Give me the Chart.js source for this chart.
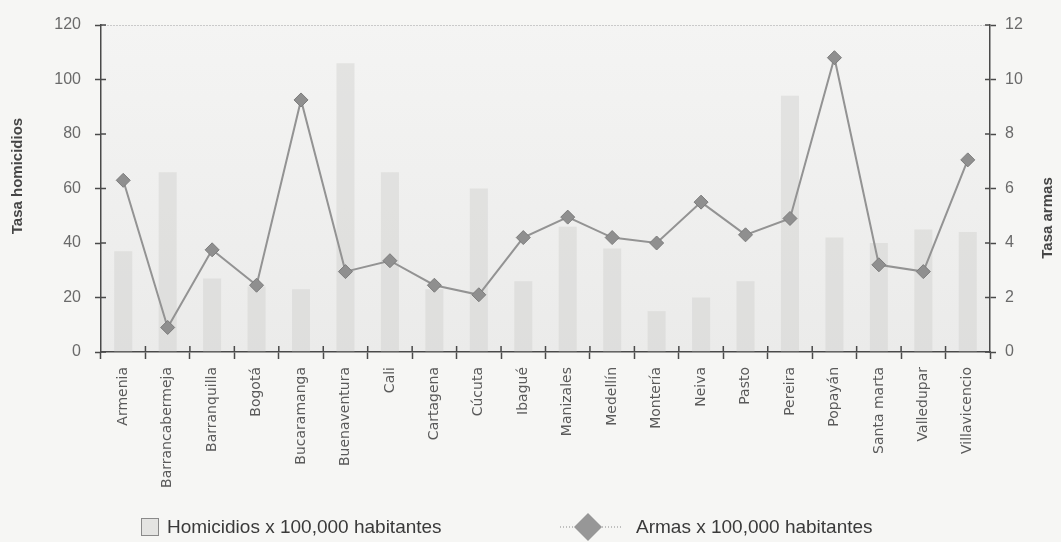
<!DOCTYPE html>
<html>
<head>
<meta charset="utf-8">
<script src="https://cdn.jsdelivr.net/npm/chart.js@4"></script>
<style>
  html, body { margin: 0; padding: 0; background: #f6f6f4; }
  #wrap { width: 1061px; height: 542px; position: relative; }
</style>
</head>
<body>
<div id="wrap"><canvas id="armasChart"></canvas></div>
<script>
const ciudades = ['Armenia', 'Barrancabermeja', 'Barranquilla', 'Bogotá', 'Bucaramanga', 'Buenaventura',
    'Cali', 'Cartagena', 'Cúcuta', 'Ibagué', 'Manizales', 'Medellín', 'Montería', 'Neiva',
    'Pasto', 'Pereira', 'Popayán', 'Santa marta', 'Valledupar', 'Villavicencio'];
const homicidios = [37, 66, 27, 24, 23, 106, 66, 23, 60, 26, 46, 38, 15, 20, 26, 94, 42, 40, 45, 44];
const armas = [6.3, 0.9, 3.75, 2.45, 9.25, 2.95, 3.35, 2.45, 2.1, 4.2, 4.95, 4.2, 4.0, 5.5, 4.3, 4.9, 10.8, 3.2, 2.95, 7.05];
const ticksHomicidios = [0, 20, 40, 60, 80, 100, 120];
const ticksArmas = [0, 2, 4, 6, 8, 10, 12];
const tituloIzq = 'Tasa homicidios';
const tituloDer = 'Tasa armas';

const axisColor = '#4a4a4a';

// plot background + ticks that cross the axis lines
const plotDecor = {
    id: 'plotDecor',
    beforeDraw(chart) {
        const { ctx, chartArea: a } = chart;
        ctx.save();
        const g = ctx.createLinearGradient(0, a.top, 0, a.bottom);
        g.addColorStop(0, '#f4f4f3');
        g.addColorStop(1, '#ebebea');
        ctx.fillStyle = g;
        ctx.fillRect(a.left, a.top, a.right - a.left, a.bottom - a.top);
        ctx.restore();
    },
    afterDraw(chart) {
        const { ctx, chartArea: a, scales } = chart;
        ctx.save();
        ctx.strokeStyle = axisColor;
        ctx.lineWidth = 1.5;
        ctx.beginPath();
        scales.y.ticks.forEach(t => {
            const py = scales.y.getPixelForValue(t.value);
            ctx.moveTo(a.left, py); ctx.lineTo(a.left + 5, py);
        });
        scales.y2.ticks.forEach(t => {
            const py = scales.y2.getPixelForValue(t.value);
            ctx.moveTo(a.right - 5, py); ctx.lineTo(a.right, py);
        });
        for (let i = 1; i < ciudades.length; i++) {
            const px = (scales.x.getPixelForTick(i - 1) + scales.x.getPixelForTick(i)) / 2;
            ctx.moveTo(px, a.bottom); ctx.lineTo(px, a.bottom - 6);
        }
        ctx.stroke();

        // axis titles, both reading bottom to top
        ctx.font = 'bold 15px "Liberation Sans", Arial, sans-serif';
        ctx.fillStyle = '#454545';
        ctx.textAlign = 'center';
        ctx.textBaseline = 'middle';
        ctx.translate(18, 176);
        ctx.rotate(-Math.PI / 2);
        ctx.fillText(tituloIzq, 0, 0);
        ctx.setTransform(1, 0, 0, 1, 0, 0);
        ctx.translate(1048, 218);
        ctx.rotate(-Math.PI / 2);
        ctx.fillText(tituloDer, 0, 0);
        ctx.restore();
    }
};

// legend drawn by hand: box for bars, dotted line + diamond for the line
const customLegend = {
    id: 'customLegend',
    afterDraw(chart) {
        const ctx = chart.ctx;
        const ds = chart.data.datasets;
        ctx.save();
        ctx.font = '19px "Liberation Sans", Arial, sans-serif';
        ctx.textBaseline = 'middle';

        ctx.fillStyle = '#e4e4e2';
        ctx.strokeStyle = '#8a8a8a';
        ctx.lineWidth = 1;
        ctx.fillRect(141.5, 518.5, 17, 17);
        ctx.strokeRect(141.5, 518.5, 17, 17);
        ctx.fillStyle = '#3a3a3a';
        ctx.fillText(ds[0].label, 167, 528);

        ctx.strokeStyle = '#8a8a8a';
        ctx.setLineDash([1, 2]);
        ctx.beginPath();
        ctx.moveTo(560, 527); ctx.lineTo(622, 527);
        ctx.stroke();
        ctx.setLineDash([]);
        ctx.fillStyle = '#979797';
        ctx.beginPath();
        ctx.moveTo(588, 513); ctx.lineTo(602, 527); ctx.lineTo(588, 541); ctx.lineTo(574, 527);
        ctx.closePath();
        ctx.fill();
        ctx.fillStyle = '#3a3a3a';
        ctx.fillText(ds[1].label, 636, 528);
        ctx.restore();
    }
};

new Chart(document.getElementById('armasChart'), {
    data: {
        labels: ciudades,
        datasets: [
            {
                type: 'bar',
                label: 'Homicidios x 100,000 habitantes',
                data: homicidios,
                yAxisID: 'y',
                backgroundColor: 'rgba(205, 205, 203, 0.42)',
                borderWidth: 0,
                barPercentage: 0.45,
                categoryPercentage: 0.9,
                order: 2
            },
            {
                type: 'line',
                label: 'Armas x 100,000 habitantes',
                data: armas,
                yAxisID: 'y2',
                borderColor: '#939393',
                borderWidth: 2,
                pointStyle: 'rectRot',
                pointRadius: 7,
                pointBackgroundColor: '#8f8f8f',
                pointBorderColor: '#7c7c7c',
                pointBorderWidth: 1,
                tension: 0,
                order: 1
            }
        ]
    },
    options: {
        responsive: true,
        maintainAspectRatio: false,
        animation: false,
        layout: { padding: { top: 25, left: 0, right: 0, bottom: 0 } },
        plugins: {
            legend: { display: false },
            tooltip: { enabled: false }
        },
        scales: {
            x: {
                offset: true,
                grid: { offset: true, display: true, drawOnChartArea: false, color: 'transparent',
                        tickColor: axisColor, tickLength: 7, tickWidth: 1.5 },
                border: { color: axisColor, width: 1.5 },
                ticks: {
                    minRotation: 90, maxRotation: 90, autoSkip: false, padding: 8,
                    color: '#5a5a5a',
                    font: { family: '"DejaVu Sans", sans-serif', size: 14 }
                },
                afterFit: s => { s.height = 190; }
            },
            y: {
                position: 'left',
                min: 0, max: 120,
                afterBuildTicks: s => { s.ticks = ticksHomicidios.map(v => ({ value: v })); },
                grid: {
                    color: c => c.tick && c.tick.value === 120 ? '#a0a0a0' : 'transparent',
                    tickColor: axisColor, tickLength: 6, tickWidth: 1.5
                },
                border: { color: axisColor, width: 1.5, dash: [1, 2] },
                ticks: {
                    padding: 14, color: '#6a6a6a',
                    font: { family: '"Liberation Sans Narrow", "Liberation Sans", sans-serif', size: 16 }
                },
                afterFit: s => { s.width = 101; }
            },
            y2: {
                position: 'right',
                min: 0, max: 12,
                afterBuildTicks: s => { s.ticks = ticksArmas.map(v => ({ value: v })); },
                grid: { drawOnChartArea: false, tickColor: axisColor, tickLength: 6, tickWidth: 1.5 },
                border: { color: axisColor, width: 1.5 },
                ticks: {
                    padding: 9, color: '#6a6a6a',
                    font: { family: '"Liberation Sans Narrow", "Liberation Sans", sans-serif', size: 16 }
                },
                afterFit: s => { s.width = 71; }
            }
        }
    },
    plugins: [plotDecor, customLegend]
});
</script>
</body>
</html>
